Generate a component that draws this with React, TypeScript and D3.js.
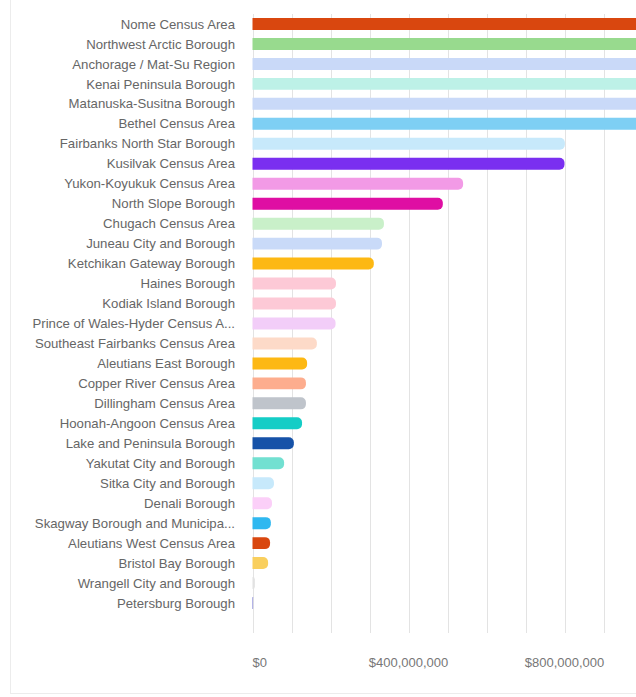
import React from 'react';
import * as d3 from 'd3';

const regions = [
  'Nome Census Area',
  'Northwest Arctic Borough',
  'Anchorage / Mat-Su Region',
  'Kenai Peninsula Borough',
  'Matanuska-Susitna Borough',
  'Bethel Census Area',
  'Fairbanks North Star Borough',
  'Kusilvak Census Area',
  'Yukon-Koyukuk Census Area',
  'North Slope Borough',
  'Chugach Census Area',
  'Juneau City and Borough',
  'Ketchikan Gateway Borough',
  'Haines Borough',
  'Kodiak Island Borough',
  'Prince of Wales-Hyder Census A...',
  'Southeast Fairbanks Census Area',
  'Aleutians East Borough',
  'Copper River Census Area',
  'Dillingham Census Area',
  'Hoonah-Angoon Census Area',
  'Lake and Peninsula Borough',
  'Yakutat City and Borough',
  'Sitka City and Borough',
  'Denali Borough',
  'Skagway Borough and Municipa...',
  'Aleutians West Census Area',
  'Bristol Bay Borough',
  'Wrangell City and Borough',
  'Petersburg Borough',
];

// dollars (top six run past the visible edge)
const amounts = [
  1350e6, 1250e6, 1150e6, 1100e6, 1050e6, 1000e6,
  801e6, 800e6, 540e6, 488e6, 337e6, 332e6, 311e6,
  214e6, 214e6, 213e6, 165e6, 140e6, 137e6, 137e6,
  127e6, 106e6, 81e6, 55e6, 50e6, 47e6, 45e6, 40e6, 6e6, 1.5e6,
];

const barColors = [
  '#d9470f', '#98da8e', '#c9d9f8', '#bdf1e7', '#c9d9f8', '#7ecff4',
  '#c7e9fb', '#7a2ff0', '#f29ae6', '#df0ea3', '#c9f0c9', '#c9daf8',
  '#fdb813', '#fdc9d6', '#fdc9d6', '#f2cdf8', '#fddac8', '#fdb813',
  '#fdad8e', '#bfc4cb', '#15cdc6', '#1652a8', '#72e0d1', '#c7e9fb',
  '#fbcff8', '#2fb8f0', '#d9470f', '#f9cf5e', '#e2e2e2', '#6a6ad0',
];

const gridValues = d3.range(0, 1.05e9, 1e8);
const labelValues = [0, 4e8, 8e8];

const W = 636;
const H = 697;

export default function App() {
  const x = d3.scaleLinear().domain([0, 1e9]).range([252.5, 642.5]);
  const y = d3.scaleBand<string>().domain(regions).range([14, 613]).paddingInner(0.4).paddingOuter(0.2);
  const money = d3.format('$,.0f');

  const barPath = (v: number, name: string) => {
    const x0 = x(0);
    const x1 = x(v);
    const y0 = y(name)!;
    const h = y.bandwidth();
    const r = Math.min(5, h / 2, Math.max(0, x1 - x0));
    const p = d3.path();
    p.moveTo(x0, y0);
    p.lineTo(x1 - r, y0);
    p.arcTo(x1, y0, x1, y0 + r, r);
    p.lineTo(x1, y0 + h - r);
    p.arcTo(x1, y0 + h, x1 - r, y0 + h, r);
    p.lineTo(x0, y0 + h);
    p.closePath();
    return p.toString();
  };

  return (
    <svg width={W} height={H} style={{ position: 'absolute', left: 0, top: 0, background: '#fff' }}
      fontFamily="'Segoe UI', 'Liberation Sans', sans-serif">
      <defs>
        <clipPath id="plot">
          <rect x={0} y={0} width={W} height={H} />
        </clipPath>
      </defs>
      <line x1={10.5} x2={10.5} y1={0} y2={694} stroke="#ececec" />
      <line x1={10} x2={W} y1={693.5} y2={693.5} stroke="#ececec" />
      <g>
        {gridValues.map(v => (
          <line key={v} x1={Math.round(x(v)) + 0.5} x2={Math.round(x(v)) + 0.5} y1={14} y2={633}
            stroke="#e3e3e3" strokeWidth={1} />
        ))}
      </g>
      <g clipPath="url(#plot)">
        {regions.map((name, i) => (
          <path key={name} d={barPath(amounts[i], name)} fill={barColors[i]} />
        ))}
      </g>
      <g fontSize={13.2} fill="#666" textAnchor="end">
        {regions.map(name => (
          <text key={name} x={235} y={y(name)! + y.bandwidth() / 2} dy="0.35em">{name}</text>
        ))}
      </g>
      <g fontSize={13} fill="#777">
        {labelValues.map(v => (
          <text key={v} x={x(v)} y={662} dy="0.35em" textAnchor={v === 0 ? 'start' : 'middle'}>
            {money(v)}
          </text>
        ))}
      </g>
    </svg>
  );
}
